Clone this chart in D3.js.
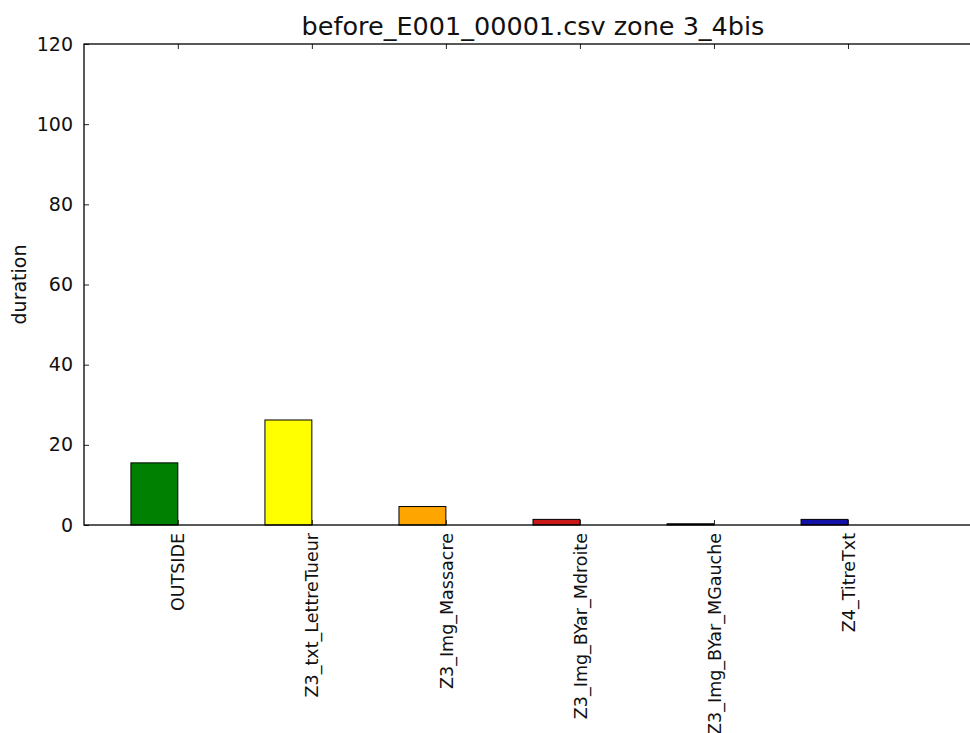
<html>
  <head>
    <script src="https://d3js.org/d3.v7.min.js"></script>
  <style>
    body { margin: 0; background: white; }
    text { font-family: "DejaVu Sans", sans-serif; fill: #111; }
    .axis .domain { stroke: none; }
  </style>
  </head>

  <body>
    <svg id="mainSVG" width="970" height="733"></svg>
  </body>

  <script>
      // chart data
      const zones = ["OUTSIDE", "Z3_txt_LettreTueur", "Z3_Img_Massacre", "Z3_Img_BYar_Mdroite", "Z3_Img_BYar_MGauche", "Z4_TitreTxt"];
      const durations = [15.5, 26.2, 4.6, 1.4, 0.3, 1.4];
      const barColors = ["#008000", "#ffff00", "#ffa500", "#c81818", "#000000", "#1212a6"];
      const yTicks = [0, 20, 40, 60, 80, 100, 120];
      const chartTitle = "before_E001_00001.csv zone 3_4bis";
      const barWidth = 0.35;

      const svg = d3.select("#mainSVG");

      // plot box (right edge falls just outside the picture)
      const plotLeft = 84, plotRight = 982, plotTop = 44, plotBottom = 525;

      const x = d3.scaleLinear()
        .domain([-barWidth, 6.35])
        .range([plotLeft, plotRight]);

      const y = d3.scaleLinear()
        .domain([0, 120])
        .range([plotBottom, plotTop]);

      // bars (left edge at i, tick at i + width)
      svg.selectAll("rect.bar")
        .data(durations)
        .join("rect")
        .attr("class", "bar")
        .attr("x", (d, i) => x(i))
        .attr("y", d => y(d))
        .attr("width", x(barWidth) - x(0))
        .attr("height", d => y(0) - y(d))
        .attr("fill", (d, i) => barColors[i])
        .attr("stroke", "black")
        .attr("stroke-width", 1);

      const tickPos = zones.map((z, i) => i + barWidth);

      // y axis on left, ticks inward
      const yAxis = svg.append("g")
        .attr("class", "axis")
        .attr("transform", `translate(${plotLeft},0)`)
        .call(d3.axisLeft(y).tickValues(yTicks).tickSizeInner(-5).tickSizeOuter(0).tickPadding(11));
      yAxis.selectAll("text").style("font-size", "19px").style("fill", "#111");
      yAxis.selectAll("line").attr("stroke", "#222");

      // x axis bottom, ticks inward
      const xAxis = svg.append("g")
        .attr("class", "axis")
        .attr("transform", `translate(0,${plotBottom})`)
        .call(d3.axisBottom(x).tickValues(tickPos).tickFormat((d, i) => zones[i]).tickSizeInner(-5).tickSizeOuter(0));
      xAxis.selectAll("line").attr("stroke", "#222");
      xAxis.selectAll("text")
        .attr("transform", "rotate(-90)")
        .attr("x", -8)
        .attr("y", 0)
        .attr("dy", "0.35em")
        .style("text-anchor", "end")
        .style("font-size", "17.5px")
        .style("fill", "#111");

      // x ticks on top too
      const topAxis = svg.append("g")
        .attr("class", "axis")
        .attr("transform", `translate(0,${plotTop})`)
        .call(d3.axisTop(x).tickValues(tickPos).tickFormat("").tickSizeInner(-5).tickSizeOuter(0));
      topAxis.selectAll("line").attr("stroke", "#222");

      // frame
      svg.append("rect")
        .attr("x", plotLeft)
        .attr("y", plotTop)
        .attr("width", plotRight - plotLeft)
        .attr("height", plotBottom - plotTop)
        .attr("fill", "none")
        .attr("stroke", "black")
        .attr("stroke-width", 1.3);

      // y label
      svg.append("text")
        .attr("transform", `translate(26,${(plotTop + plotBottom) / 2}) rotate(-90)`)
        .style("text-anchor", "middle")
        .style("font-size", "19px")
        .text("duration");

      // title
      svg.append("text")
        .attr("x", (plotLeft + plotRight) / 2)
        .attr("y", 35)
        .style("text-anchor", "middle")
        .style("font-size", "25.5px")
        .text(chartTitle);
  </script>
</html>
